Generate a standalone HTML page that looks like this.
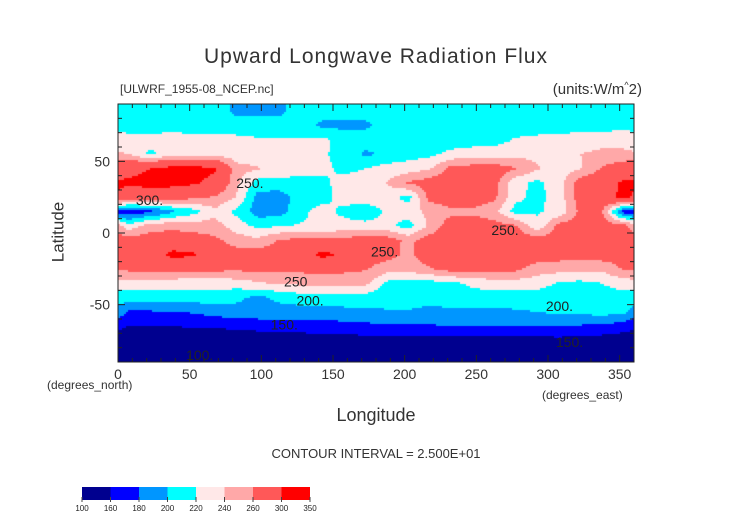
<!DOCTYPE html>
<html><head><meta charset="utf-8"><style>
body{margin:0;background:#fff;}
#wrap{position:relative;width:752px;height:532px;overflow:hidden;font-family:"Liberation Sans",sans-serif;color:#111;}
.t{position:absolute;white-space:nowrap;}
</style></head><body>
<div id="wrap">
<div class="t" style="left:0;width:752px;text-align:center;top:45px;font-size:21px;letter-spacing:1px;color:#333">Upward Longwave Radiation Flux</div>
<div class="t" style="left:120px;top:82px;font-size:12px;color:#333">[ULWRF_1955-08_NCEP.nc]</div>
<div class="t" style="right:110px;top:80px;font-size:15px;color:#333">(units:W/m<sup style="font-size:9px">^</sup>2)</div>
<canvas id="field" width="516" height="258" style="position:absolute;left:118px;top:104px"></canvas>
<svg id="ov" width="752" height="532" style="position:absolute;left:0;top:0"></svg>
<div class="t" style="left:28px;top:222px;font-size:17px;transform:rotate(-90deg);transform-origin:center;color:#333">Latitude</div>
<div class="t" style="left:47px;top:378px;font-size:12px;color:#333">(degrees_north)</div>
<div class="t" style="left:542px;top:388px;font-size:12px;color:#333">(degrees_east)</div>
<div class="t" style="left:0;width:752px;text-align:center;top:405px;font-size:18px;color:#333">Longitude</div>
<div class="t" style="left:0;width:752px;text-align:center;top:446px;font-size:13px;color:#333">CONTOUR INTERVAL = 2.500E+01</div>
</div>
<script>
const levels=[160,180,200,220,240,260,300];
const colors=["#00008f","#0000ff","#0096ff","#00ffff","#ffe8e8","#ffa8a8","#ff5858","#ff0000"];
const cbLabels=["100","160","180","200","220","240","260","300","350"];
const lats=[85,75,65,55,45,35,25,15,5,-5,-15,-25,-35,-45,-55,-65,-75,-85];
const lons=[7.5,22.5,37.5,52.5,67.5,82.5,97.5,112.5,127.5,142.5,157.5,172.5,187.5,202.5,217.5,232.5,247.5,262.5,277.5,292.5,307.5,322.5,337.5,352.5];
const r85=[210,210,210,210,210,195,195,195,210,210,210,210,210,210,200,200,200,210,210,210,210,200,210,210];
const r75=[210,210,210,210,210,210,210,210,210,195,195,195,210,210,210,210,210,210,210,210,210,210,210,215];
const r65=[228,228,230,228,228,225,222,222,222,225,212,212,210,210,210,210,210,212,222,225,228,230,232,232];
const r55=[240,215,230,232,232,228,226,222,225,222,215,195,205,212,215,225,230,230,232,235,238,240,245,245];
const r45=[290,300,310,310,305,248,242,235,228,225,215,220,228,230,238,268,270,272,262,242,232,238,262,275];
const r35=[305,310,310,305,290,245,212,212,212,215,228,228,240,262,272,272,272,268,226,215,230,272,280,305];
const r25=[280,280,275,265,258,240,192,190,210,212,228,240,230,212,268,275,275,265,225,215,228,272,280,310];
const r15=[165,175,195,212,235,215,190,190,215,228,215,200,225,232,245,255,255,245,212,218,225,265,262,170];
const r5=[228,250,255,250,248,230,215,218,222,220,228,230,228,210,245,272,275,270,262,225,268,270,272,270];
const rm5=[270,272,272,272,265,250,245,262,265,265,268,270,270,255,270,275,280,280,275,270,270,272,272,270];
const rm15=[270,275,310,305,275,270,270,272,278,310,295,270,268,255,275,278,280,280,278,272,270,272,272,270];
const rm25=[265,265,266,266,266,265,265,266,266,266,265,262,250,248,258,270,270,268,265,250,248,245,245,262];
const rm35=[232,232,230,228,228,230,238,242,245,248,248,245,215,212,212,215,225,230,232,228,218,215,220,230];
const rm45=[210,210,210,210,210,205,195,205,210,210,210,210,210,210,205,210,210,210,210,210,210,212,210,210];
const rm55=[178,178,180,182,188,192,192,192,192,192,195,195,198,198,196,196,195,195,198,200,205,205,208,205];
const rm65=[160,160,160,162,162,165,168,168,170,172,172,175,178,178,178,180,180,180,180,180,178,178,176,170];
const rm75=[145,145,145,145,145,145,145,148,148,150,150,152,152,152,150,150,150,150,150,150,155,150,150,148];
const rm85=[120,120,120,120,120,120,120,125,125,125,125,125,130,130,130,130,130,130,130,130,130,130,130,130];
const grid=[r85,r75,r65,r55,r45,r35,r25,r15,r5,rm5,rm15,rm25,rm35,rm45,rm55,rm65,rm75,rm85];
const xTicks=[0,50,100,150,200,250,300,350];
const yTicks=[50,0,-50];
const contourLabels=[["300.",22,23],["250.",92,35],["250.",270,2],["250.",186,-13],["250",124,-34],["200.",134,-47],["200.",308,-51],["150.",116,-64],["150.",315,-76],["100.",57,-85]];

const PX0=118,PX1=634,PY0=104,PY1=362;
const xS=lon=>PX0+lon/360*(PX1-PX0);
const yS=lat=>PY0+(90-lat)/180*(PY1-PY0);
function colorOf(v){let i=0;while(i<levels.length&&v>=levels[i])i++;return colors[i];}
function sample(lon,lat){
  let fy=(85-lat)/10; fy=Math.max(0,Math.min(lats.length-1,fy));
  let fx=(lon-7.5)/15;
  const n=lons.length;
  let i0=Math.floor(fy),i1=Math.min(i0+1,lats.length-1),ty=fy-i0;
  let j0=Math.floor(fx),tx=fx-j0;j0=((j0%n)+n)%n;let j1=(j0+1)%n;
  const a=grid[i0][j0]*(1-tx)+grid[i0][j1]*tx;
  const b=grid[i1][j0]*(1-tx)+grid[i1][j1]*tx;
  return a*(1-ty)+b*ty;
}
const cv=document.getElementById('field'),ctx=cv.getContext('2d');
const W=cv.width,H=cv.height,st=2;
for(let y=0;y<H;y+=st){for(let x=0;x<W;x+=st){
  const lon=(x+st/2)/W*360,lat=90-(y+st/2)/H*180;
  ctx.fillStyle=colorOf(sample(lon,lat));ctx.fillRect(x,y,st,st);}}
const NS='http://www.w3.org/2000/svg',ov=document.getElementById('ov');
function mk(t,at){const e=document.createElementNS(NS,t);for(const k in at)e.setAttribute(k,at[k]);ov.appendChild(e);return e;}
const fr=mk('rect',{x:PX0,y:PY0,width:PX1-PX0,height:PY1-PY0,fill:'none',stroke:'#222','stroke-width':1});


for(let l=0;l<=360;l+=10){const x=xS(l),len=l%50===0?7:4;
  mk('line',{x1:x,y1:PY1,x2:x,y2:PY1-len,stroke:'#222'});mk('line',{x1:x,y1:PY0,x2:x,y2:PY0+len,stroke:'#222'});}
for(let l=-90;l<=90;l+=10){const y=yS(l),len=l%50===0?7:4;
  mk('line',{x1:PX0,y1:y,x2:PX0+len,y2:y,stroke:'#222'});mk('line',{x1:PX1,y1:y,x2:PX1-len,y2:y,stroke:'#222'});}
xTicks.forEach(v=>{const t=mk('text',{x:xS(v),y:PY1+17,'text-anchor':'middle','font-size':14,fill:'#333','font-family':'Liberation Sans'});t.textContent=v;
  
  });
yTicks.forEach(v=>{const t=mk('text',{x:PX0-8,y:yS(v)+5,'text-anchor':'end','font-size':14,fill:'#333','font-family':'Liberation Sans'});t.textContent=v;
  
  });
contourLabels.forEach(c=>{const t=mk('text',{x:xS(c[1]),y:yS(c[2])+5,'text-anchor':'middle','font-size':14,fill:'#222','font-family':'Liberation Sans'});t.textContent=c[0];
  
  });
const CB0=82,CB1=310,cbw=(CB1-CB0)/colors.length;
colors.forEach((c,i)=>{const r=mk('rect',{x:CB0+i*cbw,y:487,width:cbw,height:13,fill:c});
  
  });
cbLabels.forEach((s,i)=>{const x=CB0+i*cbw;mk('line',{x1:x,y1:497,x2:x,y2:502,stroke:'#444'});
  const t=mk('text',{x:x,y:511,'text-anchor':'middle','font-size':8,fill:'#222','font-family':'Liberation Sans'});t.textContent=s;
  
  });
</script>
</body></html>
